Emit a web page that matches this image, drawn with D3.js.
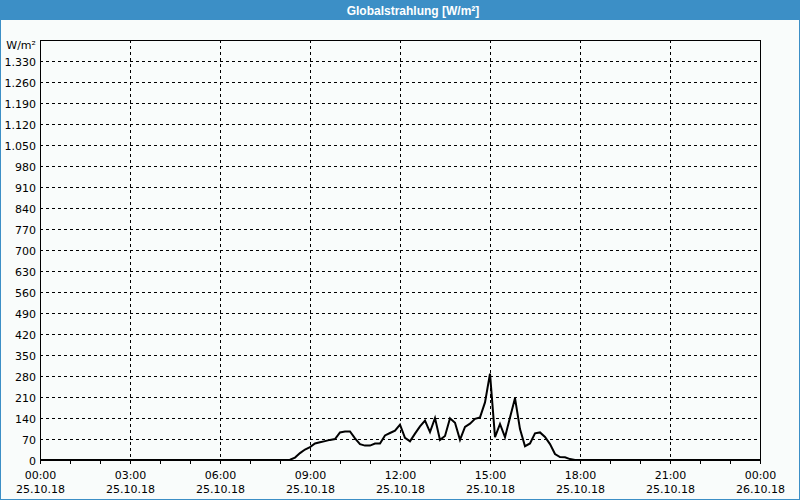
<!DOCTYPE html>
<html>
<head>
<meta charset="utf-8">
<script src="https://cdn.jsdelivr.net/npm/d3@7"></script>
<style>
  html, body { margin: 0; padding: 0; background: #ffffff; }
  svg { display: block; }
  text { font-family: "DejaVu Sans", Verdana, sans-serif; }
</style>
</head>
<body>
<svg id="chart" width="800" height="500"></svg>
<script>
// ---- data ----
const title = "Globalstrahlung [W/m²]";
const unitLabel = "W/m²";
// time of day (HH:MM) of each measurement
const times = ["00:00","08:10","08:20","08:30","08:40","08:50","09:00","09:10","09:20","09:30","09:40","09:50",
  "10:00","10:10","10:20","10:30","10:40","10:50","11:00","11:10","11:20","11:30","11:40","11:50",
  "12:00","12:10","12:20","12:30","12:40","12:50","13:00","13:10","13:20","13:30","13:40","13:50",
  "14:00","14:10","14:20","14:30","14:40","14:50","15:00","15:10","15:20","15:30","15:40","15:50",
  "16:00","16:10","16:20","16:30","16:40","16:50","17:00","17:10","17:20","17:30","17:40","17:50","24:00"];
// global radiation W/m²
const values = [0,0,1,8,23,35,43,55,59,63,67,70,
  92,95,95,72,53,48,48,55,55,82,90,98,
  118,74,62,88,112,131,93,140,67,80,139,124,
  67,110,121,137,142,192,288,76,120,76,142,206,
  103,46,55,89,92,77,53,20,10,9,3,0,0];
const yTicks = [0,70,140,210,280,350,420,490,560,630,700,770,840,910,980,1050,1120,1190,1260,1330];
const xTickHours = [0,3,6,9,12,15,18,21,24];
const xTimeLabels = ["00:00","03:00","06:00","09:00","12:00","15:00","18:00","21:00","00:00"];
const xDateLabels = ["25.10.18","25.10.18","25.10.18","25.10.18","25.10.18","25.10.18","25.10.18","25.10.18","26.10.18"];
const minorHours = d3.range(0, 25);

// ---- layout ----
const W = 800, H = 500;
const svg = d3.select("#chart");
const toHours = s => { const [h, m] = s.split(":").map(Number); return h + m / 60; };

const x = d3.scaleLinear().domain([0, 24]).range([40, 760]);
const y = d3.scaleLinear().domain([0, 1400]).range([460, 40]);

const de = d3.formatLocale({ decimal: ",", thousands: ".", grouping: [3], currency: ["", "€"] });
const fmt = de.format(",d");

// background + frame
svg.append("rect").attr("x", 0).attr("y", 0).attr("width", W).attr("height", H).attr("fill", "#f9fcfb");
svg.append("rect").attr("x", 0).attr("y", 0).attr("width", W).attr("height", 20).attr("fill", "#3c8fc6");
svg.append("rect").attr("x", 0.5).attr("y", 0.5).attr("width", W - 1).attr("height", H - 1)
  .attr("fill", "none").attr("stroke", "#3c8fc6").attr("stroke-width", 1);
svg.append("text").attr("x", 413).attr("y", 14.5).attr("text-anchor", "middle")
  .attr("fill", "#ffffff").attr("font-weight", "bold").attr("font-size", "12px")
  .style("font-family", "'Liberation Sans', Arial, sans-serif").text(title);

// horizontal gridlines
svg.append("g").selectAll("line").data(yTicks.filter(d => d > 0)).join("line")
  .attr("x1", x(0)).attr("x2", x(24))
  .attr("y1", d => Math.round(y(d)) + 0.5).attr("y2", d => Math.round(y(d)) + 0.5)
  .attr("stroke", "#000").attr("stroke-width", 1).attr("stroke-dasharray", "3,3");
// vertical gridlines
svg.append("g").selectAll("line").data(xTickHours.filter(h => h > 0 && h < 24)).join("line")
  .attr("x1", d => Math.round(x(d)) + 0.5).attr("x2", d => Math.round(x(d)) + 0.5)
  .attr("y1", y(1400)).attr("y2", y(0))
  .attr("stroke", "#000").attr("stroke-width", 1).attr("stroke-dasharray", "3,3");

// plot frame
svg.append("rect").attr("x", x(0) + 0.5).attr("y", y(1400) + 0.5)
  .attr("width", x(24) - x(0)).attr("height", y(0) - y(1400))
  .attr("fill", "none").attr("stroke", "#000").attr("stroke-width", 1);

// y labels
svg.append("g").selectAll("text").data(yTicks).join("text")
  .attr("x", 36).attr("y", d => y(d) + 4.5).attr("text-anchor", "end")
  .attr("font-size", "11px").attr("fill", "#000").text(d => fmt(d));
svg.append("text").attr("x", 36).attr("y", y(1400) + 9).attr("text-anchor", "end")
  .attr("font-size", "11px").attr("fill", "#000").text(unitLabel);

// x minor ticks
svg.append("g").selectAll("line").data(minorHours).join("line")
  .attr("x1", d => Math.round(x(d)) + 0.5).attr("x2", d => Math.round(x(d)) + 0.5)
  .attr("y1", y(0)).attr("y2", y(0) + 4)
  .attr("stroke", "#000").attr("stroke-width", 1);

// x labels
const xl = svg.append("g");
xl.selectAll("text.t").data(xTickHours).join("text").attr("class", "t")
  .attr("x", d => x(d) + 0.5).attr("y", 479).attr("text-anchor", "middle")
  .attr("font-size", "11px").attr("fill", "#000").text((d, i) => xTimeLabels[i]);
xl.selectAll("text.d").data(xTickHours).join("text").attr("class", "d")
  .attr("x", d => x(d) + 0.5).attr("y", 493).attr("text-anchor", "middle")
  .attr("font-size", "11px").attr("fill", "#000").text((d, i) => xDateLabels[i]);

// data line
const pts = times.map((t, i) => ({ h: toHours(t), v: values[i] }));
svg.append("path").datum(pts)
  .attr("d", d3.line().x(d => x(d.h)).y(d => y(d.v)))
  .attr("fill", "none").attr("stroke", "#000").attr("stroke-width", 2)
  .attr("stroke-linejoin", "miter");
</script>
</body>
</html>
